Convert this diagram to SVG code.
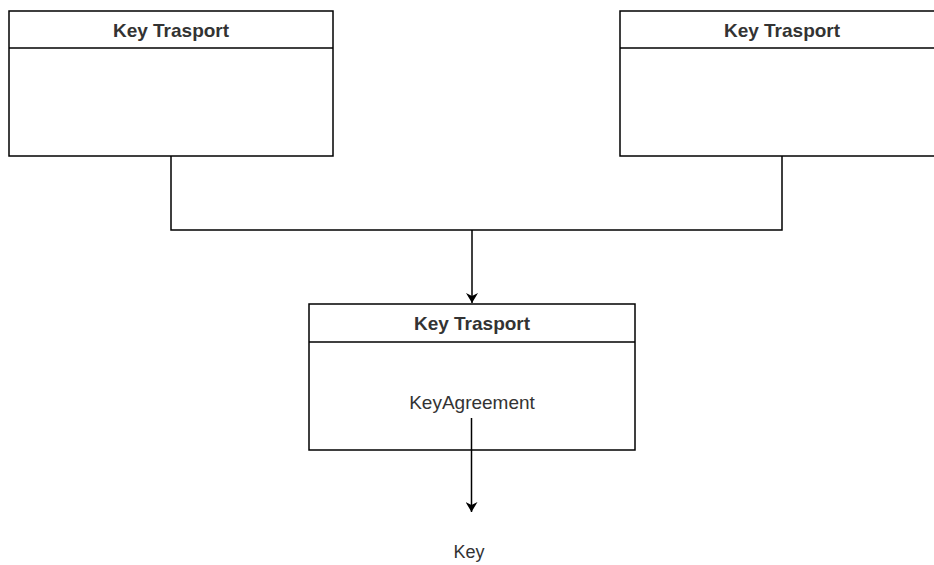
<svg xmlns="http://www.w3.org/2000/svg" width="934" height="565" viewBox="0 0 934 565">
<style>
.box{fill:#ffffff;stroke:#000000;stroke-width:1.5}
.hdr{font-family:"Liberation Sans",Arial,sans-serif;font-size:19px;font-weight:bold;fill:#333333;text-anchor:middle}
.lbl{font-family:"Liberation Sans",Arial,sans-serif;font-size:19px;fill:#333333;text-anchor:middle}
.edge{fill:none;stroke:#000000;stroke-width:1.5}
</style>
<defs>
<marker id="arr" viewBox="0 0 10 12" refX="10" refY="6" markerWidth="10" markerHeight="12" markerUnits="userSpaceOnUse" orient="auto">
<path d="M0,0 L10,6 L0,12 L3,6 Z" fill="#000000"/>
</marker>
</defs>
<rect width="934" height="565" fill="#ffffff"/>
<g id="node-left">
<rect class="box" x="9" y="11" width="324" height="145"/>
<line class="edge" x1="9" y1="48" x2="333" y2="48"/>
<text class="hdr" x="171" y="37">Key Trasport</text>
</g>
<g id="node-right">
<rect class="box" x="620" y="11" width="324" height="145"/>
<line class="edge" x1="620" y1="48" x2="944" y2="48"/>
<text class="hdr" x="782" y="37">Key Trasport</text>
</g>
<g id="node-middle">
<rect class="box" x="309" y="304" width="326" height="146"/>
<line class="edge" x1="309" y1="342" x2="635" y2="342"/>
<text class="hdr" x="472" y="330">Key Trasport</text>
<text class="lbl" x="472" y="409">KeyAgreement</text>
</g>
<g id="node-key">
<text class="lbl" x="469" y="558" style="font-size:18px">Key</text>
</g>
<g id="connectors">
<path class="edge" d="M171,156 V230 H782 V156"/>
<path class="edge" d="M472,230 V303" marker-end="url(#arr)"/>
<path class="edge" d="M471.5,418 V512" marker-end="url(#arr)"/>
</g>
</svg>
